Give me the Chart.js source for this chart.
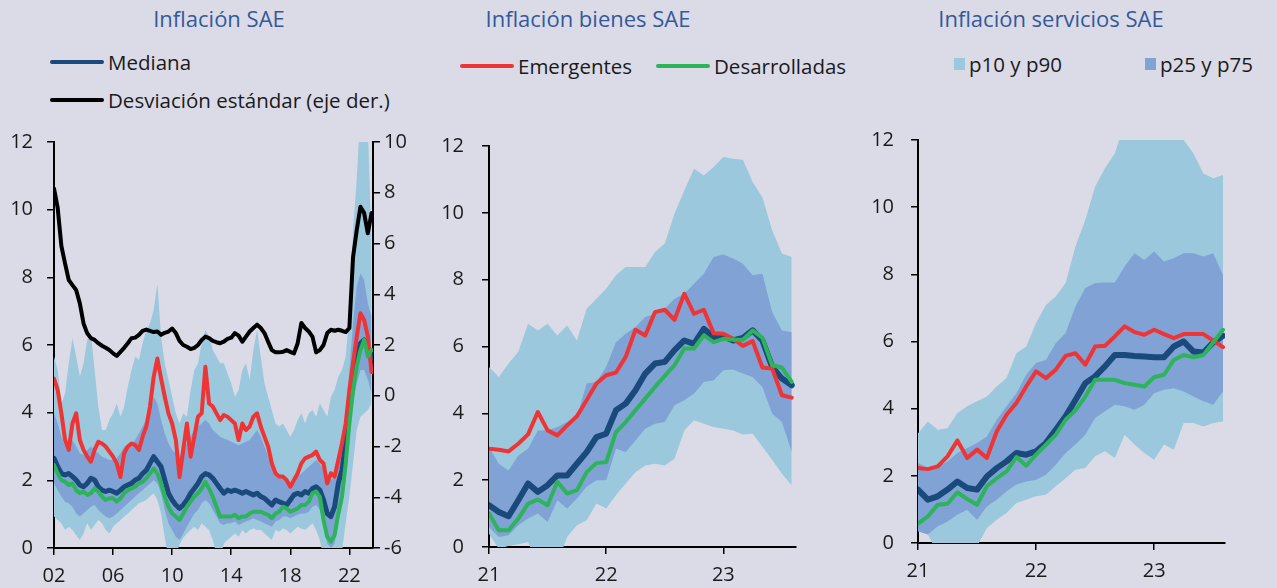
<!DOCTYPE html>
<html lang="es">
<head>
<meta charset="utf-8">
<title>Inflación SAE</title>
<script src="https://cdn.jsdelivr.net/npm/chart.js@4.4.1/dist/chart.umd.min.js"></script>
<style>
  body { margin: 0; width: 1277px; height: 588px; overflow: hidden; background: #dbdbe7;
         font-family: 'Open Sans', sans-serif; position: relative; }
  .titulo { position: absolute; top: 18px; transform: translate(-50%, -50%); color: #34599b;
            font-size: 22px; white-space: nowrap; }
  .item { position: absolute; display: flex; align-items: center; transform: translateY(-50%);
          font-size: 20.5px; color: #1a1a1a; white-space: nowrap; }
  .linea { width: 54px; height: 4px; border-radius: 2px; margin-right: 4px; }
  .cuadro { width: 11px; height: 12px; margin-right: 4px; }
  canvas { position: absolute; top: 120px; }
</style>
</head>
<body>

<div class="titulo" style="left:219px">Inflación SAE</div>
<div class="titulo" style="left:588px">Inflación bienes SAE</div>
<div class="titulo" style="left:1051px">Inflación servicios SAE</div>

<div class="item" style="left:50px; top:62px"><span class="linea" style="background:#1a4a7c"></span>Mediana</div>
<div class="item" style="left:50px; top:100px"><span class="linea" style="background:#000"></span>Desviación estándar (eje der.)</div>
<div class="item" style="left:460px; top:66px"><span class="linea" style="background:#ee3434"></span>Emergentes</div>
<div class="item" style="left:656px; top:66px"><span class="linea" style="background:#2db45a"></span>Desarrolladas</div>
<div class="item" style="left:954px; top:64px"><span class="cuadro" style="background:#9bc8dc"></span>p10 y p90</div>
<div class="item" style="left:1145px; top:64px"><span class="cuadro" style="background:#80a2d4"></span>p25 y p75</div>

<canvas id="chartSae" width="430" height="468" style="left:0px"></canvas>
<canvas id="chartBienes" width="400" height="468" style="left:430px"></canvas>
<canvas id="chartServicios" width="417" height="468" style="left:860px"></canvas>

<script>
// ── Categorías ──
const trimestres = Array.from({ length: 87 }, (_, k) => 2002 + k / 4);   // 2002T1 .. 2023T3
const meses = Array.from({ length: 32 }, (_, i) => 2021 + i / 12);       // ene-21 .. ago-23
const ticksSae = [2002, 2006, 2010, 2014, 2018, 2022];
const ticksMeses = [2021, 2022, 2023];

// ── Inflación SAE (trimestral) ──
const saeMediana = [2.65, 2.4, 2.2, 2.16, 2.2, 2.11, 2.01, 1.86, 1.81, 1.91,
  2.06, 2.01, 1.81, 1.71, 1.67, 1.71, 1.67, 1.62, 1.71, 1.81,
  1.86, 1.91, 2.01, 2.06, 2.2, 2.3, 2.5, 2.7, 2.55, 2.4,
  2.01, 1.62, 1.42, 1.27, 1.17, 1.27, 1.42, 1.62, 1.76, 1.91,
  2.11, 2.2, 2.16, 2.06, 1.91, 1.76, 1.62, 1.71, 1.67, 1.71,
  1.67, 1.62, 1.67, 1.62, 1.57, 1.62, 1.52, 1.47, 1.37, 1.27,
  1.42, 1.37, 1.32, 1.27, 1.42, 1.57, 1.62, 1.57, 1.67, 1.62,
  1.76, 1.81, 1.71, 1.42, 1.02, 0.93, 1.22, 1.91, 2.3, 3.09,
  4.18, 5.06, 5.66, 6.05, 6.15, 5.95, 5.6];
const saeEmergentes = [5.0, 4.67, 3.98, 3.19, 2.9, 3.68, 3.98, 3.19, 2.9, 2.7,
  2.55, 2.9, 3.14, 3.09, 3.0, 2.85, 2.7, 2.5, 2.1, 2.8,
  3.0, 3.09, 3.04, 2.9, 3.29, 3.59, 4.18, 5.06, 5.6, 5.01,
  4.47, 3.98, 3.68, 3.19, 2.1, 2.9, 3.68, 2.7, 3.29, 3.88,
  3.98, 5.36, 4.27, 4.18, 3.98, 3.78, 3.93, 3.88, 3.78, 3.68,
  3.19, 3.68, 3.49, 3.59, 3.88, 3.98, 3.59, 3.29, 3.0, 2.5,
  2.21, 2.11, 2.11, 2.01, 1.81, 2.01, 2.21, 2.5, 2.65, 2.7,
  2.75, 2.85, 2.6, 2.5, 1.91, 2.21, 2.11, 2.6, 3.09, 3.68,
  4.67, 5.46, 6.25, 6.94, 6.74, 6.25, 5.2];
const saeDesarrolladas = [2.45, 2.2, 2.01, 1.96, 1.86, 1.91, 1.71, 1.62, 1.67, 1.57,
  1.62, 1.76, 1.67, 1.52, 1.42, 1.47, 1.47, 1.37, 1.47, 1.62,
  1.71, 1.76, 1.81, 1.91, 1.96, 2.06, 2.2, 2.35, 2.2, 1.91,
  1.52, 1.22, 1.02, 0.93, 0.83, 1.02, 1.22, 1.37, 1.52, 1.62,
  1.76, 1.96, 1.76, 1.52, 1.22, 0.93, 0.93, 0.93, 0.93, 0.98,
  0.88, 0.93, 0.93, 1.02, 1.07, 1.07, 1.07, 1.02, 0.98, 0.88,
  1.02, 1.07, 1.22, 1.17, 1.07, 1.12, 1.17, 1.27, 1.27, 1.37,
  1.62, 1.67, 1.52, 0.83, 0.33, 0.19, 0.38, 1.02, 1.52, 2.5,
  3.68, 4.67, 5.36, 5.85, 6.15, 5.66, 5.85];
const saeP90 = [5.66, 5.26, 4.27, 4.57, 5.46, 6.2, 5.66, 5.06, 5.46, 6.15,
  6.34, 5.26, 4.18, 3.49, 3.49, 3.78, 3.98, 4.27, 3.88, 4.18,
  4.77, 5.26, 5.66, 5.56, 6.05, 6.44, 6.64, 7.03, 7.82, 6.25,
  5.46, 4.97, 4.47, 3.98, 3.68, 3.98, 3.88, 4.67, 5.26, 5.46,
  6.05, 6.44, 6.25, 5.85, 5.66, 5.46, 5.46, 5.16, 4.87, 4.47,
  4.67, 5.26, 5.46, 4.97, 5.85, 6.44, 5.66, 4.87, 4.47, 4.08,
  3.68, 3.59, 3.68, 3.49, 3.29, 3.49, 3.78, 3.98, 3.68, 3.98,
  4.08, 3.88, 4.27, 4.08, 3.88, 4.47, 4.67, 5.06, 5.26, 5.66,
  6.84, 9.4, 10.9, 13, 13, 12.5, 9.0];
const saeP75 = [3.98, 3.68, 3.29, 3.0, 3.09, 3.19, 3.0, 2.8, 2.75, 2.9,
  3.0, 2.9, 2.8, 2.7, 2.65, 2.6, 2.6, 2.65, 2.8, 3.0,
  3.04, 3.09, 3.19, 3.39, 3.59, 3.78, 3.98, 4.47, 4.27, 3.78,
  3.39, 3.09, 2.9, 2.8, 2.7, 2.9, 3.09, 3.29, 3.49, 3.59,
  3.68, 3.78, 3.68, 3.49, 3.39, 3.29, 3.24, 3.19, 3.14, 3.09,
  3.04, 3.09, 3.14, 3.19, 3.34, 3.49, 3.29, 3.0, 2.7, 2.4,
  2.2, 2.11, 2.06, 2.01, 1.91, 2.01, 2.11, 2.2, 2.3, 2.4,
  2.5, 2.6, 2.5, 2.3, 2.11, 2.01, 2.11, 2.5, 3.0, 3.88,
  5.26, 6.64, 7.72, 8.11, 7.92, 7.23, 6.84];
const saeP25 = [1.91, 1.71, 1.52, 1.37, 1.32, 1.22, 1.02, 0.93, 1.02, 1.12,
  1.22, 1.27, 1.12, 1.02, 0.93, 0.88, 0.93, 1.02, 1.12, 1.22,
  1.32, 1.42, 1.52, 1.62, 1.71, 1.81, 1.91, 2.01, 1.91, 1.62,
  1.12, 0.73, 0.53, 0.33, 0.24, 0.43, 0.63, 0.83, 1.02, 1.12,
  1.32, 1.42, 1.32, 1.12, 0.93, 0.73, 0.68, 0.73, 0.73, 0.78,
  0.68, 0.73, 0.78, 0.83, 0.88, 0.83, 0.78, 0.73, 0.68, 0.63,
  0.78, 0.83, 0.93, 0.93, 0.88, 0.93, 0.98, 1.02, 1.02, 1.07,
  1.22, 1.27, 1.12, 0.63, 0.14, 0.0, 0.14, 0.73, 1.22, 2.01,
  3.19, 4.27, 4.87, 5.26, 5.26, 4.97, 4.57];
const saeP10 = [0.93, 0.83, 0.73, 0.53, 0.63, 0.53, 0.38, 0.24, 0.43, 0.73,
  0.53, 0.68, 0.83, 0.73, 0.53, 0.43, 0.63, 0.73, 0.83, 0.93,
  1.02, 1.12, 1.22, 1.32, 1.37, 1.42, 1.52, 1.62, 1.42, 1.02,
  0.3, -0.3, -0.3, -0.2, 0.1, 0.3, 0.43, 0.53, 0.63, 0.53,
  0.73, 0.63, 0.53, 0.24, -0.2, -0.3, 0.14, 0.24, 0.33, 0.43,
  0.33, 0.53, 0.43, 0.53, 0.58, 0.53, 0.53, 0.43, 0.33, 0.24,
  0.53, 0.48, 0.58, 0.53, 0.43, 0.53, 0.63, 0.58, 0.53, 0.63,
  0.73, 0.53, 0.24, -0.3, -0.5, -0.5, -0.3, -0.2, -0.1, 0.73,
  1.52, 2.5, 3.49, 3.88, 3.98, 4.08, 4.27];
// eje derecho
const saeDesviacion = [8.17, 7.4, 5.9, 5.21, 4.56, 4.36, 4.17, 3.64, 2.85, 2.46,
  2.27, 2.2, 2.07, 1.97, 1.89, 1.8, 1.67, 1.57, 1.73, 1.89,
  2.07, 2.27, 2.29, 2.4, 2.56, 2.61, 2.56, 2.51, 2.53, 2.4,
  2.48, 2.53, 2.65, 2.47, 2.16, 2.0, 1.93, 1.84, 1.89, 2.0,
  2.2, 2.33, 2.27, 2.16, 2.11, 2.07, 2.13, 2.24, 2.29, 2.47,
  2.37, 2.13, 2.33, 2.53, 2.67, 2.8, 2.67, 2.47, 2.13, 1.8,
  1.71, 1.71, 1.73, 1.8, 1.73, 1.67, 2.07, 2.87, 2.67, 2.53,
  2.33, 1.71, 1.8, 2.0, 2.47, 2.6, 2.56, 2.6, 2.56, 2.51,
  2.67, 5.47, 6.53, 7.45, 7.2, 6.4, 7.2];

// ── Inflación bienes SAE (mensual) ──
const bienesMediana = [1.25, 1.05, 0.92, 1.40, 1.90, 1.65, 1.85, 2.14, 2.14, 2.49, 2.84, 3.29, 3.39, 4.09, 4.29, 4.69,
  5.19, 5.49, 5.54, 5.89, 6.18, 6.08, 6.53, 6.28, 6.30, 6.18, 6.26, 6.48, 6.18, 5.39, 5.04, 4.84];
const bienesEmergentes = [2.94, 2.91, 2.86, 3.09, 3.37, 4.04, 3.49, 3.34, 3.64, 3.91, 4.39, 4.89, 5.14, 5.22, 5.69, 6.50,
  6.33, 7.03, 7.10, 6.80, 7.58, 6.98, 7.10, 6.40, 6.38, 6.23, 6.02, 6.16, 5.37, 5.34, 4.54, 4.47];
const bienesDesarrolladas = [1.0, 0.50, 0.50, 0.85, 1.30, 1.42, 1.25, 1.95, 1.60, 1.70, 2.24, 2.51, 2.54, 3.44, 3.74, 4.09,
  4.44, 4.79, 5.12, 5.44, 5.94, 5.94, 6.33, 6.13, 6.23, 6.20, 6.20, 6.48, 6.26, 5.44, 5.37, 4.94];
const bienesP90 = [5.39, 5.09, 5.49, 5.84, 6.68, 6.48, 6.68, 6.33, 6.63, 6.18, 7.13, 7.43, 7.73, 8.13, 8.38, 8.38,
  8.38, 8.83, 9.08, 9.98, 10.67, 11.32, 11.12, 11.37, 11.67, 11.62, 11.59, 10.92, 10.47, 9.48, 8.78, 8.68];
const bienesP75 = [2.99, 2.49, 2.29, 2.74, 2.94, 3.49, 3.49, 3.59, 3.74, 3.89, 4.89, 4.94, 5.39, 6.13, 6.38, 6.58,
  6.88, 6.98, 7.13, 7.43, 7.58, 7.88, 8.18, 8.68, 8.75, 8.63, 8.48, 8.13, 8.18, 7.03, 6.48, 6.43];
const bienesP25 = [0.60, 0.30, 0.35, 0.65, 0.85, 1.0, 0.75, 1.40, 1.15, 1.45, 1.80, 2.0, 2.0, 2.94, 2.84, 3.19,
  3.54, 3.69, 3.74, 4.24, 4.39, 4.59, 4.94, 4.99, 5.29, 5.31, 5.19, 5.09, 4.79, 3.99, 3.74, 2.84];
const bienesP10 = [0.40, -0.05, 0.03, 0.08, 0.15, -0.5, -0.5, -0.5, 0.30, 0.65, 0.80, 1.30, 1.15, 1.55, 1.90, 2.24,
  2.44, 2.49, 2.44, 2.64, 3.49, 3.79, 3.69, 3.59, 3.54, 3.49, 3.37, 3.39, 3.0, 2.6, 2.19, 1.85];

// ── Inflación servicios SAE (mensual) ──
const serviciosMediana = [1.59, 1.29, 1.39, 1.59, 1.83, 1.64, 1.59, 1.98, 2.23, 2.43, 2.68, 2.63, 2.73, 2.98, 3.37, 3.77,
  4.26, 4.76, 4.96, 5.26, 5.60, 5.60, 5.57, 5.55, 5.53, 5.53, 5.85, 6.0, 5.70, 5.67, 5.97, 6.17];
const serviciosEmergentes = [2.23, 2.20, 2.28, 2.58, 3.05, 2.53, 2.78, 2.53, 3.32, 3.82, 4.17, 4.66, 5.11, 4.91, 5.16, 5.57,
  5.65, 5.31, 5.85, 5.87, 6.15, 6.45, 6.28, 6.20, 6.35, 6.22, 6.10, 6.22, 6.22, 6.22, 6.03, 5.83];
const serviciosDesarrolladas = [0.58, 0.79, 1.14, 1.17, 1.51, 1.31, 1.14, 1.69, 1.93, 2.13, 2.56, 2.30, 2.63, 2.93, 3.22, 3.67,
  3.95, 4.36, 4.86, 4.86, 4.86, 4.76, 4.71, 4.66, 4.94, 5.01, 5.45, 5.60, 5.53, 5.60, 5.97, 6.35];
const serviciosP90 = [3.27, 3.62, 3.37, 3.42, 3.87, 4.07, 4.22, 4.36, 4.66, 4.91, 5.65, 5.85, 6.55, 7.09, 7.34, 7.74,
  8.83, 9.62, 10.61, 11.16, 11.60, 12.5, 13, 13, 13, 12.5, 12.3, 12.0, 11.6, 11.0, 10.86, 10.96];
const serviciosP75 = [2.38, 2.23, 2.28, 2.43, 2.68, 2.83, 2.98, 3.17, 3.67, 4.07, 4.46, 5.01, 5.36, 5.45, 5.95, 6.25,
  7.04, 7.59, 7.74, 7.76, 7.76, 8.23, 8.63, 8.43, 8.68, 8.38, 8.48, 8.63, 8.63, 8.53, 8.63, 7.98];
const serviciosP25 = [0.35, 0.25, 0.50, 0.64, 0.84, 0.99, 0.69, 1.09, 1.29, 1.54, 1.74, 1.83, 1.88, 2.03, 2.33, 2.68,
  2.93, 3.22, 3.72, 3.92, 4.12, 4.07, 3.97, 4.12, 4.46, 4.56, 4.61, 4.51, 4.36, 4.22, 4.12, 4.51];
const serviciosP10 = [0.35, 0.25, -0.3, -0.3, -0.3, -0.3, -0.1, 0.45, 0.69, 0.89, 1.19, 1.29, 1.39, 1.44, 1.69, 1.93,
  2.18, 2.23, 2.58, 2.73, 2.53, 3.22, 2.93, 2.68, 2.48, 2.93, 2.78, 3.57, 3.57, 3.47, 3.57, 3.62];

// ── Estilos ──
const AZUL = '#1a4a7c';
const ROJO = '#ee3434';
const VERDE = '#2db45a';
const CLARO = '#9bc8dc';
const MEDIO = '#80a2d4';
const TEXTO = '#1a1a1a';
const FUENTE = { family: "'Open Sans', sans-serif", size: 20 };

// ── Helpers ──
function puntos(xs, ys) {
    return xs.map((x, i) => ({ x, y: ys[i] }));
}

function linea(label, xs, ys, color, width, extra = {}) {
    return Object.assign({
        label, data: puntos(xs, ys),
        borderColor: color, borderWidth: width,
        pointRadius: 0, fill: false, tension: 0,
        borderJoinStyle: 'round', borderCapStyle: 'round'
    }, extra);
}

function banda(label, xs, ys, fill, color) {
    return {
        label, data: puntos(xs, ys),
        borderWidth: 0, borderColor: 'rgba(0,0,0,0)',
        pointRadius: 0, tension: 0,
        fill, backgroundColor: color || 'rgba(0,0,0,0)'
    };
}

function bandas(xs, p90, p75, p25, p10) {
    return [
        banda('p75', xs, p75, '+1', MEDIO),
        banda('p25', xs, p25, false),
        banda('p90', xs, p90, '+1', CLARO),
        banda('p10', xs, p10, false)
    ];
}

function ejeX(min, max, ticks, alto) {
    return {
        type: 'linear', min, max,
        afterBuildTicks: s => { s.ticks = ticks.map(v => ({ value: v })); },
        afterFit: s => { s.height = alto; },
        ticks: {
            callback: v => String(v % 100).padStart(2, '0'),
            color: TEXTO, font: FUENTE, padding: 9, maxRotation: 0, autoSkip: false
        },
        grid: { drawOnChartArea: false, drawTicks: true, tickLength: 7, color: '#000', lineWidth: 1.5 },
        border: { display: true, color: '#000', width: 2 }
    };
}

function ejeY(position, min, max, ancho, padding) {
    return {
        type: 'linear', position, min, max,
        // ancho fijo y sin margen extra arriba/abajo: el área se fija con layout.padding
        afterFit: s => { s.width = ancho; s.paddingTop = 0; s.paddingBottom = 0; },
        ticks: { stepSize: 2, color: TEXTO, font: FUENTE, padding },
        grid: { drawOnChartArea: false, drawTicks: true, tickLength: 7, color: '#000', lineWidth: 1.5 },
        border: { display: true, color: '#000', width: 2 }
    };
}

function crearPanel(canvasId, datasets, scales, padding) {
    return new Chart(document.getElementById(canvasId), {
        type: 'line',
        data: { datasets },
        options: {
            responsive: false,
            animation: false,
            events: [],
            layout: { padding },
            plugins: { legend: { display: false }, tooltip: { enabled: false } },
            scales
        }
    });
}

// ── Panel 1: Inflación SAE ──
crearPanel('chartSae', [
    linea('Desviación estándar (eje der.)', trimestres, saeDesviacion, '#000', 4, { yAxisID: 'y2' }),
    linea('Desarrolladas', trimestres, saeDesarrolladas, VERDE, 4),
    linea('Emergentes', trimestres, saeEmergentes, ROJO, 4),
    linea('Mediana', trimestres, saeMediana, AZUL, 5),
    ...bandas(trimestres, saeP90, saeP75, saeP25, saeP10)
], {
    x: ejeX(2002, 2023.6, ticksSae, 40),
    y: ejeY('left', 0, 12, 54, 14),
    y2: ejeY('right', -6, 10, 57, 4)
}, { top: 22, right: 0, bottom: 0, left: 0 });

// ── Panel 2: Inflación bienes SAE ──
crearPanel('chartBienes', [
    linea('Desarrolladas', meses, bienesDesarrolladas, VERDE, 4),
    linea('Emergentes', meses, bienesEmergentes, ROJO, 4),
    linea('Mediana', meses, bienesMediana, AZUL, 6),
    ...bandas(meses, bienesP90, bienesP75, bienesP25, bienesP10)
], {
    x: ejeX(2021, 2023.62, ticksMeses, 41),
    y: ejeY('left', 0, 12, 59, 18)
}, { top: 26, right: 34, bottom: 0, left: 0 });

// ── Panel 3: Inflación servicios SAE ──
crearPanel('chartServicios', [
    linea('Desarrolladas', meses, serviciosDesarrolladas, VERDE, 4),
    linea('Emergentes', meses, serviciosEmergentes, ROJO, 4),
    linea('Mediana', meses, serviciosMediana, AZUL, 6),
    ...bandas(meses, serviciosP90, serviciosP75, serviciosP25, serviciosP10)
], {
    x: ejeX(2021, 2023.6, ticksMeses, 45),
    y: ejeY('left', 0, 12, 58, 17)
}, { top: 20, right: 52, bottom: 0, left: 0 });
</script>
</body>
</html>
